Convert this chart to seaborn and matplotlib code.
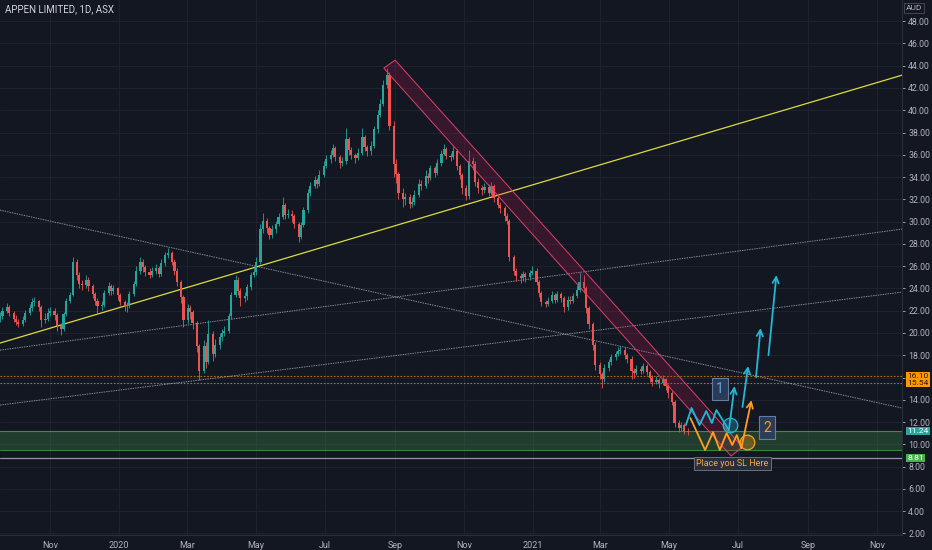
import matplotlib
matplotlib.use("Agg")
import matplotlib.pyplot as plt
import matplotlib.dates as mdates
from matplotlib.patches import Polygon
from matplotlib.transforms import blended_transform_factory
import numpy as np
import pandas as pd
import seaborn as sns

# ---- price data (one candle per two trading days) ----
start_date = "2019-09-18"
closes = [
    21.5, 22.0, 22.3, 21.8, 21.3, 21.0, 20.8, 21.2, 21.8, 22.2,
    22.8, 22.9, 22.3, 21.2, 21.3, 21.8, 22.0, 21.6, 20.6, 20.4,
    21.7, 22.9, 23.4, 26.4, 25.2, 24.4, 24.3, 24.8, 24.2, 23.5,
    22.9, 22.4, 22.5, 23.6, 24.2, 23.8, 24.0, 23.4, 22.8, 22.5,
    22.4, 23.5, 24.4, 25.6, 26.4, 25.9, 25.5, 25.2, 25.6, 25.8,
    25.3, 26.3, 27.0, 27.2, 26.4, 25.6, 24.6, 23.2, 21.2, 22.2,
    21.9, 20.9, 18.8, 16.6, 18.8, 17.4, 19.9, 18.1, 18.9, 19.6,
    20.0, 20.2, 21.5, 23.4, 24.8, 23.8, 23.1, 23.3, 24.1, 25.2,
    25.5, 26.4, 29.3, 30.1, 29.4, 28.8, 29.3, 29.8, 30.4, 31.5,
    30.6, 30.7, 30.5, 29.8, 28.6, 29.7, 31.0, 32.6, 33.2, 33.7,
    33.4, 34.2, 35.0, 35.6, 36.0, 36.6, 35.8, 35.3, 35.4, 37.4,
    36.4, 36.0, 35.7, 36.2, 37.6, 36.7, 36.3, 36.8, 38.3, 39.6,
    40.6, 42.3, 43.2, 38.6, 35.2, 34.3, 32.6, 32.0, 32.2, 31.6,
    31.8, 32.4, 33.4, 33.2, 34.1, 33.9, 34.8, 34.4, 35.3, 36.1,
    36.5, 35.9, 35.8, 36.3, 35.0, 34.2, 33.0, 32.3, 35.4, 35.2,
    33.6, 33.0, 32.8, 33.1, 32.6, 33.2, 32.1, 31.5, 31.2, 30.5,
    30.1, 26.8, 25.6, 25.1, 24.9, 25.3, 25.0, 25.4, 25.6, 24.6,
    23.6, 22.8, 22.6, 22.9, 23.4, 23.0, 23.5, 23.1, 22.3, 23.0,
    22.9, 23.3, 23.9, 24.6, 24.0, 22.2, 20.8, 18.9, 17.1, 16.3,
    15.9, 16.9, 17.4, 17.8, 18.1, 18.4, 18.5, 18.0, 17.7, 16.6,
    16.4, 16.8, 16.6, 17.0, 16.5, 16.0, 15.6, 15.8, 15.5, 15.9,
    15.2, 14.6, 13.8, 11.9, 11.5, 11.7, 11.2, 11.1,
]
highs = [
    21.9, 22.3, 22.7, 22.5, 22.0, 21.6, 21.3, 21.5, 22.1, 22.6,
    23.1, 23.2, 23.0, 22.5, 21.8, 22.2, 22.3, 22.2, 21.8, 20.9,
    21.9, 23.1, 23.7, 26.8, 26.6, 25.5, 24.8, 25.2, 25.0, 24.4,
    23.7, 23.1, 22.9, 23.9, 24.6, 24.4, 24.3, 24.1, 23.6, 23.0,
    22.8, 23.8, 24.7, 26.0, 26.8, 26.6, 26.1, 25.8, 25.9, 26.2,
    26.0, 26.6, 27.3, 27.6, 27.4, 26.6, 25.8, 24.8, 23.4, 22.6,
    22.5, 22.1, 21.1, 19.0, 19.4, 19.2, 21.2, 20.2, 19.5, 20.0,
    20.4, 20.6, 21.8, 23.7, 25.2, 25.0, 24.0, 23.7, 24.4, 25.5,
    25.9, 26.8, 29.8, 30.8, 30.3, 29.6, 29.7, 30.1, 30.8, 32.2,
    31.7, 31.1, 31.0, 30.7, 30.0, 30.0, 31.3, 32.9, 33.6, 34.1,
    33.9, 34.6, 35.4, 36.0, 36.4, 37.0, 36.8, 36.0, 35.8, 38.4,
    37.6, 36.7, 36.2, 36.6, 38.4, 37.8, 36.9, 37.2, 38.6, 40.0,
    41.0, 42.7, 43.8, 43.4, 39.0, 35.6, 34.5, 33.0, 32.6, 32.5,
    32.2, 32.8, 33.8, 33.7, 34.6, 34.4, 35.1, 35.0, 35.6, 36.4,
    37.0, 36.7, 36.2, 36.8, 36.5, 35.2, 34.4, 33.3, 36.4, 35.8,
    35.4, 33.9, 33.3, 33.5, 33.4, 33.6, 33.4, 32.6, 31.8, 31.4,
    30.8, 30.2, 27.0, 25.8, 25.4, 25.6, 25.5, 25.7, 26.0, 25.8,
    24.8, 23.8, 23.0, 23.2, 23.8, 23.6, 23.8, 23.7, 23.3, 23.3,
    23.3, 23.6, 24.3, 25.5, 25.2, 24.2, 22.4, 21.0, 19.2, 17.4,
    16.5, 17.2, 17.7, 18.1, 18.4, 18.7, 18.8, 18.7, 18.2, 17.9,
    16.9, 17.1, 17.0, 17.3, 17.2, 16.7, 16.2, 16.1, 16.0, 16.2,
    16.0, 15.4, 14.8, 14.0, 12.2, 12.0, 11.9, 11.5,
]
lows = [
    21.0, 21.3, 21.8, 21.5, 21.0, 20.7, 20.5, 20.6, 21.0, 21.6,
    22.0, 22.4, 22.0, 20.5, 20.9, 21.1, 21.5, 21.2, 20.2, 19.8,
    20.2, 21.5, 22.7, 23.3, 24.8, 24.0, 23.9, 24.0, 23.8, 23.1,
    22.5, 21.8, 22.1, 22.3, 23.4, 23.4, 23.5, 23.0, 22.5, 22.0,
    21.9, 22.2, 23.3, 24.2, 25.3, 25.5, 25.1, 24.9, 25.0, 25.3,
    25.0, 25.1, 26.0, 26.7, 26.1, 25.2, 24.2, 22.7, 20.5, 20.9,
    21.3, 20.4, 18.3, 15.8, 16.4, 16.9, 17.2, 17.5, 17.8, 18.6,
    19.3, 19.7, 20.0, 21.3, 23.2, 23.4, 22.4, 22.8, 23.0, 23.9,
    25.0, 25.2, 26.2, 29.0, 29.0, 28.4, 28.5, 29.0, 29.6, 30.2,
    30.2, 30.3, 30.0, 29.4, 28.2, 28.4, 29.5, 30.8, 32.3, 33.0,
    33.0, 33.2, 34.0, 34.8, 35.3, 35.8, 35.4, 34.8, 35.0, 35.2,
    36.0, 35.6, 35.3, 35.5, 36.0, 36.3, 35.9, 36.0, 36.6, 38.0,
    39.4, 40.4, 42.0, 38.2, 34.0, 33.5, 32.0, 31.3, 31.5, 31.2,
    31.3, 31.5, 32.2, 32.8, 33.0, 33.5, 33.7, 34.0, 34.2, 35.0,
    36.0, 35.6, 35.4, 35.6, 34.6, 33.8, 32.5, 31.9, 32.0, 34.6,
    33.2, 32.6, 32.4, 32.6, 32.3, 32.4, 31.8, 31.2, 30.8, 30.1,
    29.8, 26.5, 25.2, 24.7, 24.5, 24.7, 24.6, 24.8, 25.2, 24.3,
    23.2, 22.4, 22.3, 22.4, 22.7, 22.7, 22.8, 22.8, 21.9, 22.1,
    22.6, 22.7, 23.1, 23.7, 23.6, 21.8, 20.4, 18.5, 16.7, 15.9,
    15.1, 15.6, 16.6, 17.1, 17.6, 17.9, 18.1, 17.7, 17.3, 15.9,
    16.0, 16.2, 16.3, 16.4, 16.2, 15.6, 15.2, 15.4, 15.1, 15.3,
    14.9, 14.2, 13.5, 11.6, 11.1, 11.2, 10.9, 10.8,
]
first_open = 21.3

# ---- axis ticks ----
x_tick_dates = ["2019-11-01", "2020-01-01", "2020-03-01", "2020-05-01", "2020-07-01",
                "2020-09-01", "2020-11-01", "2021-01-01", "2021-03-01", "2021-05-01",
                "2021-07-01", "2021-09-01", "2021-11-01"]
x_tick_labels = ["Nov", "2020", "Mar", "May", "Jul", "Sep", "Nov", "2021", "Mar", "May",
                 "Jul", "Sep", "Nov"]
y_ticks = list(range(2, 50, 2))

# ---- drawings ----
# trend lines given by two points each (date, price)
yellow_line = (["2019-09-18", "2021-11-23"], [19.10, 43.15])
grey_lines = [
    (["2019-09-18", "2021-11-23"], [31.03, 13.26]),
    (["2019-09-18", "2021-11-23"], [13.53, 23.67]),
    (["2019-09-18", "2021-11-23"], [18.46, 29.33]),
]
orange_levels = [16.10, 15.54]
zone_low, zone_high = 9.50, 11.24
sl_level = 8.81

channel_dates = ["2020-08-22", "2020-09-01", "2021-07-05", "2021-06-25"]
channel_prices = [43.78, 44.50, 9.76, 8.95]

cyan_zz_dates = ["2021-05-16", "2021-05-21", "2021-05-28", "2021-06-03", "2021-06-08",
                 "2021-06-12", "2021-06-23"]
cyan_zz_prices = [11.73, 13.26, 11.73, 12.99, 11.91, 13.08, 11.28]
cyan_arrows = [
    ("2021-06-23", 11.28, "2021-06-28", 15.23),
    ("2021-07-05", 13.35, "2021-07-10", 17.03),
    ("2021-07-17", 16.04, "2021-07-21", 20.44),
    ("2021-07-28", 18.01, "2021-08-04", 25.20),
]
orange_zz_dates = ["2021-05-20", "2021-06-02", "2021-06-09", "2021-06-15", "2021-06-21",
                   "2021-06-26", "2021-06-30", "2021-07-04"]
orange_zz_prices = [12.36, 9.49, 11.10, 9.49, 11.01, 9.94, 10.83, 9.67]
orange_arrow = ("2021-07-04", 9.67, "2021-07-13", 13.97)
cyan_circle = ("2021-06-24", 11.73)
orange_circle = ("2021-07-09", 10.20)
box1 = ("2021-06-15", 14.96)
box2 = ("2021-07-27", 11.50)
sl_note = ("2021-06-26", 8.27)

BG = "#131722"
UP, DOWN = "#26a69a", "#ef5350"
CYAN, ORANGE = "#22b8d6", "#ff9f1c"
TXT = "#b2b5be"

sns.set_theme(style="dark", rc={
    "axes.facecolor": BG, "figure.facecolor": BG, "savefig.facecolor": BG,
    "axes.edgecolor": "#2a2e39", "grid.color": "#1e222d",
})
plt.rcParams["font.family"] = ["Roboto", "DejaVu Sans"]

fig = plt.figure(figsize=(9.32, 5.5), dpi=100)
ax = fig.add_axes([0, 15 / 550, 902 / 932, 535 / 550])


def dn(d):
    return mdates.date2num(pd.Timestamp(d))


# candles
dates = pd.bdate_range(start_date, periods=len(closes), freq="2B")
df = pd.DataFrame({"date": dates, "close": closes, "high": highs, "low": lows})
df["open"] = [first_open] + closes[:-1]
df["up"] = df["close"] >= df["open"]
xs = mdates.date2num(df["date"])
cols = np.where(df["up"], UP, DOWN)
ax.vlines(xs, df["low"], df["high"], colors=cols, lw=0.6, zorder=3)
body_lo = df[["open", "close"]].min(axis=1)
body_h = (df["close"] - df["open"]).abs().clip(lower=0.08)
ax.bar(xs, body_h, bottom=body_lo, width=1.9, color=cols, lw=0, zorder=3)

# horizontal levels / zone
ax.axhspan(zone_low, zone_high, color="#4caf50", alpha=0.25, lw=0, zorder=1)
for lv in (zone_low, zone_high):
    ax.axhline(lv, color="#4caf50", lw=0.8, alpha=0.7, zorder=2)
ax.axhline(sl_level, color="#b2b5be", lw=0.9, alpha=0.8, zorder=2)
for lv in orange_levels:
    ax.axhline(lv, color="#ff9800", lw=0.8, ls=(0, (1.5, 1.5)), alpha=0.7, zorder=2)

# trend lines
for ds, ps in grey_lines:
    ax.axline((dn(ds[0]), ps[0]), (dn(ds[1]), ps[1]), color="#d1d4dc", lw=0.7,
              ls=(0, (1.5, 1)), alpha=0.6, zorder=2)
ax.axline((dn(yellow_line[0][0]), yellow_line[1][0]),
          (dn(yellow_line[0][1]), yellow_line[1][1]), color="#dcdc3c", lw=0.9, zorder=2)

# falling channel
poly = Polygon(list(zip([dn(d) for d in channel_dates], channel_prices)), closed=True,
               facecolor=(0.78, 0.10, 0.35, 0.2), edgecolor="#e0406a", lw=0.7, zorder=4)
ax.add_patch(poly)

# projected paths
sns.lineplot(x=pd.to_datetime(cyan_zz_dates), y=cyan_zz_prices, sort=False, estimator=None,
             color=CYAN, lw=1.3, ax=ax, zorder=6)
sns.lineplot(x=pd.to_datetime(orange_zz_dates), y=orange_zz_prices, sort=False, estimator=None,
             color=ORANGE, lw=1.3, ax=ax, zorder=6)
for d0, p0, d1, p1 in cyan_arrows:
    ax.annotate("", xy=(dn(d1), p1), xytext=(dn(d0), p0), zorder=6,
                arrowprops=dict(arrowstyle="->", color=CYAN, lw=1.3, mutation_scale=11,
                                shrinkA=0, shrinkB=0))
d0, p0, d1, p1 = orange_arrow
ax.annotate("", xy=(dn(d1), p1), xytext=(dn(d0), p0), zorder=6,
            arrowprops=dict(arrowstyle="->", color=ORANGE, lw=1.3, mutation_scale=11,
                            shrinkA=0, shrinkB=0))
ax.scatter([dn(cyan_circle[0])], [cyan_circle[1]], s=110, facecolor=(0.13, 0.72, 0.84, 0.3),
           edgecolor=CYAN, lw=0.9, zorder=7)
ax.scatter([dn(orange_circle[0])], [orange_circle[1]], s=110, facecolor=(1.0, 0.62, 0.11, 0.3),
           edgecolor=ORANGE, lw=0.9, zorder=7)

box_kw = dict(boxstyle="square,pad=0.3", facecolor="#2e3f5c", edgecolor="#6a87b0", lw=0.8, alpha=0.9)
ax.text(dn(box1[0]), box1[1], "1", color="#5fa8d8", fontsize=10, ha="center", va="center",
        bbox=box_kw, zorder=8)
ax.text(dn(box2[0]), box2[1], "2", color=ORANGE, fontsize=10, ha="center", va="center",
        bbox=box_kw, zorder=8)
ax.text(dn(sl_note[0]), sl_note[1], "Place you SL Here", color="#f5a742", fontsize=6.5,
        ha="center", va="center", zorder=8,
        bbox=dict(boxstyle="square,pad=0.25", facecolor="#2a2e39", edgecolor="#6b6f7b", lw=0.7))

# axes formatting
ax.set_xlim(dn("2019-09-17 20:00"), dn("2021-11-23"))
ax.set_ylim(1.86, 49.9)
ax.set_xticks([dn(d) for d in x_tick_dates])
ax.set_xticklabels(x_tick_labels)
ax.set_yticks(y_ticks)
ax.set_yticklabels([f"{v:.2f}" for v in y_ticks])
ax.yaxis.tick_right()
ax.tick_params(axis="x", colors=TXT, labelsize=6.5, length=0, pad=4)
ax.tick_params(axis="y", colors=TXT, labelsize=6.3, length=2.5, width=0.6, pad=2)
ax.grid(True, color="#1f2330", lw=0.7)
ax.set_xlabel("")
ax.set_ylabel("")
for s in ("top", "left"):
    ax.spines[s].set_visible(False)
for s in ("right", "bottom"):
    ax.spines[s].set_color("#2a2e39")
    ax.spines[s].set_linewidth(0.8)

# price labels on the scale
tr = blended_transform_factory(ax.transAxes, ax.transData)
scale_tags = [(16.10, "#ff9800", "#2a1a00"), (15.54, "#ff9800", "#2a1a00"),
              (11.24, "#26a69a", "white"), (8.81, "#4caf50", "white")]
for val, bg, fg in scale_tags:
    ax.text(1.006, val, f"{val:.2f}", transform=tr, ha="left", va="center", fontsize=6.1,
            color=fg, clip_on=False, zorder=10,
            bbox=dict(boxstyle="square,pad=0.12", facecolor=bg, edgecolor="none"))

fig.text(914 / 932, 1 - 8 / 550, "AUD", color=TXT, fontsize=6, ha="center", va="center",
         bbox=dict(boxstyle="square,pad=0.25", facecolor=BG, edgecolor="#434651", lw=0.7))
fig.text(5 / 932, 1 - 9 / 550, "APPEN LIMITED, 1D, ASX", color="#d1d4dc", fontsize=7,
         ha="left", va="center")

fig.savefig("out.png", dpi=100)
